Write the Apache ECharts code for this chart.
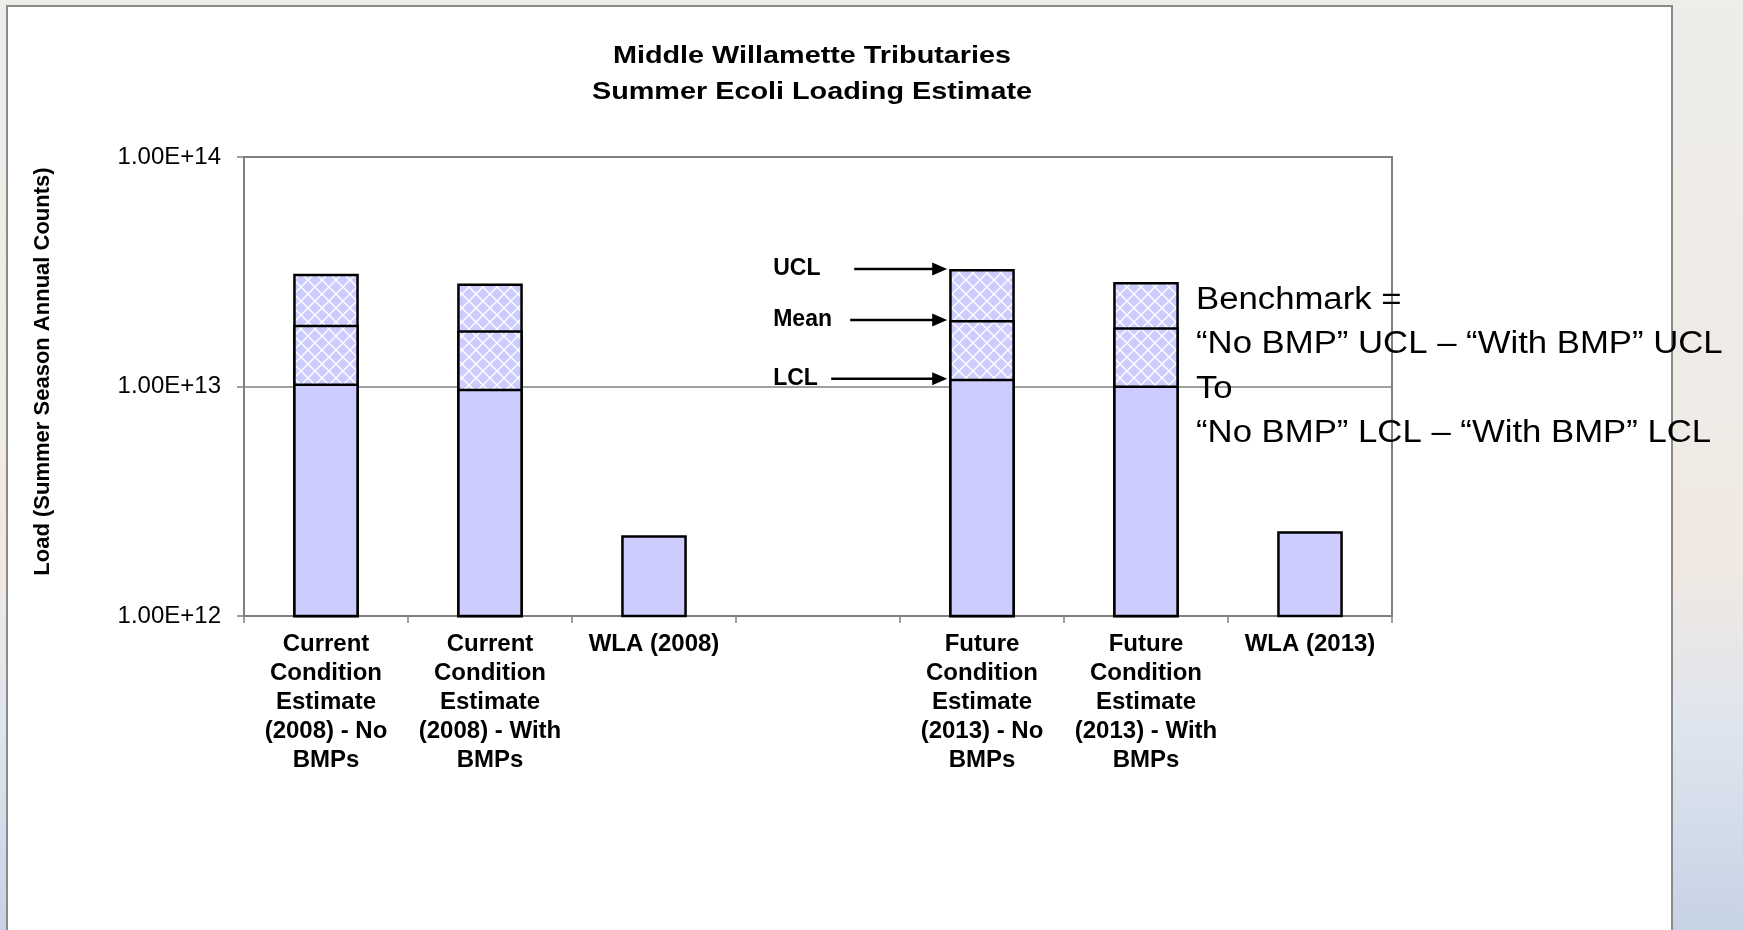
<!DOCTYPE html>
<html>
<head>
<meta charset="utf-8">
<script src="https://cdn.jsdelivr.net/npm/echarts@6/dist/echarts.min.js"></script>
<style>
  html, body { margin: 0; padding: 0; }
  body {
    width: 1743px; height: 930px; overflow: hidden; position: relative;
    background: linear-gradient(180deg, #eeede9 0%, #efebe6 45%, #f1e9e2 60%, #dfe5ee 78%, #c6d3e5 100%);
  }
  #panel {
    position: absolute; left: 6px; top: 5px; width: 1667px; height: 940px;
    box-sizing: border-box; border: 2px solid #8a8a8a; background: #fff;
  }
  #chart { position: absolute; left: 0; top: 0; width: 1743px; height: 930px; }
</style>
</head>
<body>
<div id="panel"></div>
<div id="chart"></div>
<script>
// categories (line breaks as wrapped in the original)
const categories = [
  'Current\nCondition\nEstimate\n(2008) - No\nBMPs',
  'Current\nCondition\nEstimate\n(2008) - With\nBMPs',
  'WLA (2008)',
  '',
  'Future\nCondition\nEstimate\n(2013) - No\nBMPs',
  'Future\nCondition\nEstimate\n(2013) - With\nBMPs',
  'WLA (2013)'
]
// load estimates (counts)
const ucl  = [3.10e13, 2.81e13, null, null, 3.25e13, 2.85e13, null]
const mean = [1.86e13, 1.76e13, null, null, 1.95e13, 1.81e13, null]
const lcl  = [1.03e13, 9.77e12, null, null, 1.08e13, 1.01e13, null]
const wla  = [null, null, 2.25e12, null, null, null, 2.34e12]

const yMin = 1e12
const yMax = 1e14

const titleText = ['Middle Willamette Tributaries', 'Summer Ecoli Loading Estimate']

// arrows point at the "Future ... No BMPs" bar
const annotIndex = 4
const annotations = [
  { label: 'UCL', series: ucl },
  { label: 'Mean', series: mean },
  { label: 'LCL', series: lcl }
]

const benchmarkText = [
  'Benchmark =',
  '\u201cNo BMP\u201d UCL \u2013 \u201cWith BMP\u201d UCL',
  'To',
  '\u201cNo BMP\u201d LCL \u2013 \u201cWith BMP\u201d LCL'
]

const FONT = '"Liberation Sans", Arial, sans-serif'

function makeHatch() {
  const size = 14
  const c = document.createElement('canvas')
  c.width = size
  c.height = size
  const g = c.getContext('2d')
  g.fillStyle = '#ccccff'
  g.fillRect(0, 0, size, size)
  g.strokeStyle = '#ffffff'
  g.lineWidth = 1.4
  g.beginPath()
  g.moveTo(0, 0); g.lineTo(size, size)
  g.moveTo(size, 0); g.lineTo(0, size)
  g.stroke()
  return c
}

const hatch = { image: makeHatch(), repeat: 'repeat' }
const barBorder = { borderColor: '#000', borderWidth: 2.5 }

function barSeries(name, data, color) {
  return {
    name,
    type: 'bar',
    data,
    barWidth: '40%',
    barGap: '-100%',
    clip: true,
    silent: true,
    itemStyle: { color, ...barBorder }
  }
}

const chart = echarts.init(document.getElementById('chart'), null, { renderer: 'canvas' })

chart.setOption({
  animation: false,
  backgroundColor: 'transparent',
  grid: {
    left: 244,
    top: 157,
    right: 351,
    bottom: 314,
    containLabel: false,
    outerBoundsMode: 'none',
    show: true,
    borderColor: '#808080',
    borderWidth: 2,
    backgroundColor: 'transparent'
  },
  xAxis: {
    type: 'category',
    data: categories,
    boundaryGap: true,
    axisLine: { lineStyle: { color: '#808080', width: 2 } },
    axisTick: { show: true, inside: false, length: 7, alignWithLabel: false, lineStyle: { color: '#808080', width: 1.5 } },
    axisLabel: {
      interval: 0,
      margin: 14,
      fontFamily: FONT,
      fontWeight: 'bold',
      fontSize: 24,
      lineHeight: 29,
      color: '#000'
    },
    splitLine: { show: false }
  },
  yAxis: {
    type: 'log',
    logBase: 10,
    min: yMin,
    max: yMax,
    axisLine: { show: true, lineStyle: { color: '#808080', width: 2 } },
    axisTick: { show: true, inside: false, length: 7, lineStyle: { color: '#808080', width: 1.5 } },
    axisLabel: {
      margin: 23,
      fontFamily: FONT,
      fontSize: 24,
      color: '#000',
      formatter: v => Number(v).toExponential(2).toUpperCase()
    },
    splitLine: { show: true, lineStyle: { color: '#808080', width: 1.5 } },
    minorTick: { show: false },
    minorSplitLine: { show: false }
  },
  series: [
    barSeries('UCL', ucl, hatch),
    barSeries('Mean', mean, hatch),
    barSeries('LCL', lcl, '#ccccff'),
    barSeries('WLA', wla, '#ccccff')
  ]
})

// annotations placed through the chart's own scales
function buildGraphics() {
  const p0 = chart.convertToPixel({ xAxisIndex: 0, yAxisIndex: 0 }, [annotIndex, yMin])
  const p1 = chart.convertToPixel({ xAxisIndex: 0, yAxisIndex: 0 }, [annotIndex + 1, yMin])
  const band = p1[0] - p0[0]
  const barLeft = p0[0] - band * 0.2
  const startOffsets = [95, 99, 118]
  const els = []

  // title (the original slide stretched it sideways)
  els.push({
    type: 'text',
    silent: true,
    x: 812,
    y: 74,
    scaleX: 1.2,
    style: {
      text: titleText.join('\n'),
      fontFamily: FONT,
      fontWeight: 'bold',
      fontSize: 24,
      lineHeight: 36,
      fill: '#000',
      align: 'center',
      verticalAlign: 'middle'
    }
  })

  annotations.forEach((a, i) => {
    const y = chart.convertToPixel({ xAxisIndex: 0, yAxisIndex: 0 }, [annotIndex, a.series[annotIndex]])[1]
    const tip = barLeft - 2
    const start = barLeft - startOffsets[i]
    els.push({
      type: 'line',
      silent: true,
      shape: { x1: start, y1: y, x2: tip - 12, y2: y },
      style: { stroke: '#000', lineWidth: 2.5 }
    })
    els.push({
      type: 'polygon',
      silent: true,
      shape: { points: [[tip, y], [tip - 15, y - 6.5], [tip - 15, y + 6.5]] },
      style: { fill: '#000' }
    })
    els.push({
      type: 'text',
      silent: true,
      x: barLeft - 176,
      y: y,
      style: {
        text: a.label,
        fontFamily: FONT,
        fontWeight: 'bold',
        fontSize: 23,
        fill: '#000',
        align: 'left',
        verticalAlign: 'middle'
      }
    })
  })

  // y axis title
  const gridTop = chart.convertToPixel({ yAxisIndex: 0 }, yMax)
  const gridBottom = chart.convertToPixel({ yAxisIndex: 0 }, yMin)
  els.push({
    type: 'text',
    silent: true,
    x: 43,
    y: (gridTop + gridBottom) / 2 - 15,
    rotation: Math.PI / 2,
    style: {
      text: 'Load (Summer Season Annual Counts)',
      fontFamily: FONT,
      fontWeight: 'bold',
      fontSize: 22,
      fill: '#000',
      align: 'center',
      verticalAlign: 'middle'
    }
  })

  // benchmark note
  els.push({
    type: 'text',
    silent: true,
    x: 1196,
    y: 278,
    scaleX: 1.12,
    z: 100,
    style: {
      text: benchmarkText.join('\n'),
      fontFamily: FONT,
      fontSize: 31,
      lineHeight: 44.5,
      fill: '#000',
      align: 'left',
      verticalAlign: 'top'
    }
  })
  return els
}

chart.setOption({ graphic: buildGraphics() })
</script>
</body>
</html>
